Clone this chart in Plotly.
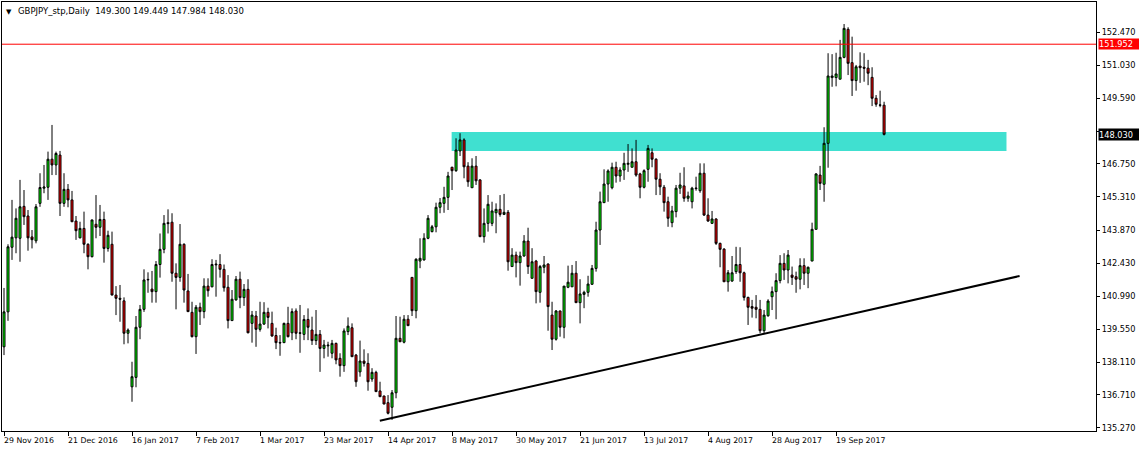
import plotly.graph_objects as go

# ---------------- data ----------------
open_ = [138.79, 140.31, 143.12, 143.53, 143.51, 144.90, 144.48, 143.57, 143.40, 145.03,
         145.69, 145.73, 146.95, 146.70, 147.13, 145.03, 145.64, 145.18, 144.26, 143.53,
         143.94, 143.25, 142.71, 144.12, 143.99, 144.33, 143.07, 143.25, 141.04, 140.90,
         140.79, 139.38, 137.05, 137.46, 139.64, 140.42, 141.70, 141.30, 141.19, 142.37,
         143.03, 144.19, 144.21, 141.99, 141.81, 143.25, 141.22, 140.29, 139.23, 140.51,
         140.32, 141.43, 141.40, 142.39, 142.37, 142.16, 141.38, 139.93, 140.83, 141.73,
         140.93, 141.29, 139.81, 140.13, 139.55, 139.78, 140.29, 139.81, 139.28, 138.98,
         138.97, 139.81, 139.40, 140.35, 139.40, 139.33, 139.98, 139.52, 139.06, 139.33,
         138.72, 138.83, 138.51, 138.94, 138.29, 137.97, 139.45, 139.62, 138.43, 137.70,
         138.17, 138.07, 137.39, 137.68, 136.87, 136.65, 136.36, 136.16, 136.79, 139.16,
         138.99, 139.99, 141.81, 140.36, 142.52, 142.57, 143.51, 143.80, 144.01, 144.86,
         145.03, 145.29, 146.60, 146.45, 147.31, 147.79, 146.65, 145.71, 146.65, 146.05,
         143.58, 144.16, 144.16, 144.62, 144.77, 144.55, 144.64, 142.28, 142.78, 142.45,
         142.74, 143.39, 141.77, 142.52, 141.16, 142.25, 142.39, 140.17, 139.12, 140.35,
         139.64, 141.38, 141.40, 141.99, 140.71, 141.07, 141.16, 141.51, 142.20, 143.87,
         145.06, 145.87, 145.71, 146.60, 146.22, 146.48, 146.73, 146.60, 146.84, 146.31,
         145.73, 146.51, 147.23, 146.95, 146.08, 145.73, 145.10, 144.19, 144.67, 145.69,
         145.79, 145.25, 145.10, 145.67, 145.58, 146.34, 144.52, 144.16, 144.35, 143.29,
         143.04, 141.62, 141.65, 142.06, 142.37, 142.01, 140.94, 140.54, 140.51, 140.42,
         139.49, 140.14, 140.97, 141.19, 141.67, 142.42, 142.13, 141.91, 141.84, 141.73,
         142.32, 141.99, 142.52, 143.90, 146.26, 145.86, 147.64, 150.50, 150.50, 150.43,
         151.38, 152.60, 151.15, 150.37, 151.00, 150.95, 150.91, 150.51, 149.60, 149.31,
         149.300]

high = [141.35, 143.25, 145.18, 144.81, 146.05, 145.61, 144.74, 143.87, 145.00, 146.34,
        146.70, 147.28, 148.44, 147.28, 147.31, 146.34, 145.87, 145.57, 144.48, 144.23,
        144.67, 143.29, 144.31, 145.39, 144.96, 144.67, 143.84, 143.80, 141.43, 141.48,
        140.94, 139.59, 138.14, 140.13, 140.61, 142.16, 142.03, 142.09, 142.52, 143.72,
        144.52, 144.77, 144.60, 142.42, 144.13, 143.29, 141.96, 140.75, 140.61, 140.71,
        141.77, 141.77, 142.60, 142.57, 142.82, 142.37, 141.91, 141.26, 141.87, 142.06,
        141.52, 141.73, 140.35, 140.35, 140.75, 140.73, 140.49, 140.32, 139.62, 139.30,
        139.84, 140.53, 140.46, 140.46, 140.61, 140.17, 140.46, 140.10, 140.39, 139.52,
        139.09, 139.01, 139.09, 138.97, 138.51, 139.59, 140.07, 139.81, 138.48, 139.06,
        138.68, 138.51, 137.86, 137.75, 137.27, 136.66, 136.69, 136.91, 140.13, 140.10,
        140.17, 140.17, 141.81, 142.64, 143.51, 143.73, 144.52, 144.09, 145.06, 145.26,
        145.75, 146.40, 146.62, 147.86, 148.08, 147.86, 146.82, 146.99, 147.09, 146.08,
        144.81, 145.39, 145.10, 145.03, 145.39, 145.44, 144.74, 143.08, 142.93, 142.93,
        143.65, 143.97, 143.08, 142.57, 142.35, 142.74, 142.42, 140.75, 140.39, 140.36,
        141.43, 142.32, 142.35, 142.52, 141.73, 141.23, 141.88, 142.35, 144.23, 145.54,
        146.51, 146.51, 146.80, 146.84, 146.60, 147.23, 147.61, 147.42, 147.79, 146.36,
        146.51, 147.57, 147.42, 146.99, 146.34, 145.83, 145.32, 144.92, 145.83, 146.36,
        146.60, 145.54, 145.75, 146.19, 146.77, 146.77, 145.25, 144.70, 144.38, 143.32,
        143.08, 142.13, 142.74, 143.14, 143.12, 142.06, 140.97, 140.83, 141.04, 140.83,
        140.39, 140.86, 141.41, 141.99, 142.78, 142.86, 143.00, 142.28, 142.06, 142.64,
        142.64, 142.28, 144.19, 146.34, 146.66, 148.34, 151.56, 151.52, 151.58, 152.14,
        152.83, 152.69, 152.28, 151.05, 151.60, 151.56, 151.27, 150.95, 149.74, 149.93,
        149.449]

low = [138.43, 139.92, 142.57, 142.86, 142.49, 144.09, 142.97, 143.07, 143.29, 144.88,
       145.47, 145.18, 146.26, 146.26, 144.48, 144.88, 144.86, 144.23, 143.44, 143.51,
       142.86, 142.16, 142.68, 143.51, 143.61, 142.45, 142.93, 141.04, 140.17, 139.88,
       138.90, 138.94, 136.40, 137.03, 139.12, 140.31, 141.14, 140.71, 140.71, 141.80,
       142.86, 143.72, 141.62, 140.42, 141.62, 140.71, 140.32, 139.20, 138.48, 139.74,
       140.03, 140.97, 141.38, 140.97, 141.80, 141.19, 139.59, 139.93, 140.80, 140.47,
       140.57, 139.38, 138.97, 138.79, 139.45, 139.74, 139.59, 139.23, 138.69, 138.40,
       138.97, 139.20, 139.08, 139.12, 138.53, 139.08, 139.08, 138.87, 138.87, 137.70,
       138.29, 138.36, 138.29, 138.03, 137.49, 137.70, 139.30, 138.36, 137.05, 137.49,
       137.93, 136.88, 137.27, 136.84, 136.62, 136.30, 135.85, 135.61, 136.55, 139.01,
       138.94, 139.71, 140.13, 140.03, 142.21, 142.54, 143.47, 143.77, 143.77, 144.60,
       144.62, 144.74, 145.61, 146.40, 147.09, 146.12, 145.75, 145.71, 145.83, 143.58,
       143.32, 143.80, 144.04, 143.73, 144.45, 144.52, 142.10, 142.28, 141.81, 141.45,
       142.71, 141.96, 141.77, 140.68, 140.71, 141.99, 139.49, 138.65, 139.06, 139.23,
       139.16, 141.34, 141.40, 140.71, 139.81, 140.47, 140.97, 141.48, 142.06, 143.22,
       145.06, 145.10, 145.64, 145.93, 145.97, 146.05, 146.40, 146.60, 146.19, 145.25,
       145.68, 145.97, 146.60, 145.39, 145.39, 144.67, 144.01, 143.99, 144.42, 145.44,
       145.10, 145.10, 144.81, 145.58, 145.49, 144.48, 144.23, 144.13, 143.22, 142.25,
       141.62, 141.19, 141.62, 141.96, 141.62, 140.80, 139.74, 140.06, 140.03, 139.38,
       139.38, 140.10, 140.39, 139.99, 141.55, 141.70, 141.55, 141.48, 141.14, 141.29,
       141.48, 141.34, 142.52, 143.90, 145.61, 145.10, 146.58, 150.10, 150.12, 150.43,
       151.34, 150.61, 149.70, 149.93, 150.27, 150.32, 150.17, 149.26, 149.23, 149.21,
       147.984]

close = [140.31, 143.14, 143.56, 144.38, 144.88, 144.45, 143.53, 143.45, 144.88, 145.72,
         145.74, 146.95, 146.70, 147.20, 145.03, 145.64, 145.18, 144.23, 143.84, 143.94,
         143.25, 142.71, 144.31, 143.99, 144.33, 143.07, 143.64, 141.04, 140.90, 140.86,
         139.38, 139.52, 137.49, 139.64, 140.42, 141.70, 141.72, 141.19, 142.37, 143.03,
         144.16, 144.15, 141.99, 141.81, 143.25, 141.26, 140.32, 139.23, 140.51, 140.32,
         141.43, 141.23, 142.37, 142.36, 142.16, 141.36, 139.93, 140.86, 141.73, 140.93,
         141.29, 139.40, 140.17, 139.55, 139.78, 140.29, 140.07, 139.26, 138.97, 138.96,
         139.81, 139.23, 140.32, 139.38, 139.38, 139.98, 139.64, 139.06, 139.33, 138.72,
         138.87, 138.86, 138.94, 138.22, 137.97, 139.48, 139.69, 138.36, 137.27, 138.17,
         138.07, 137.27, 137.68, 136.84, 136.62, 136.30, 135.90, 136.79, 139.16, 139.01,
         139.99, 139.71, 140.36, 142.60, 142.64, 143.51, 144.38, 144.01, 144.86, 145.06,
         145.29, 146.22, 146.45, 147.35, 147.79, 146.62, 145.97, 146.65, 146.01, 143.58,
         144.16, 144.99, 144.70, 144.77, 144.55, 144.64, 142.49, 142.78, 142.45, 142.74,
         143.39, 142.28, 142.49, 141.19, 142.28, 142.35, 140.54, 139.12, 140.35, 139.64,
         141.43, 141.60, 141.99, 140.71, 141.09, 141.16, 141.52, 142.20, 143.87, 145.10,
         145.87, 146.44, 146.60, 146.22, 146.48, 146.77, 146.77, 146.84, 146.26, 145.73,
         146.45, 147.42, 146.95, 146.08, 145.75, 145.06, 144.38, 144.70, 145.69, 145.83,
         145.25, 145.35, 145.69, 145.69, 146.34, 144.52, 144.26, 144.35, 143.29, 143.03,
         141.62, 142.01, 142.01, 142.37, 142.01, 140.94, 140.51, 140.47, 140.42, 139.49,
         140.17, 140.78, 141.19, 141.67, 142.42, 142.13, 142.78, 141.81, 141.73, 142.32,
         141.99, 142.25, 143.90, 146.31, 145.90, 147.64, 150.57, 150.57, 150.66, 151.38,
         152.64, 151.12, 150.37, 150.97, 150.93, 150.91, 150.69, 149.60, 149.34, 149.30,
         148.030]

bar_index = list(range(len(close)))

date_tick_bars = [0, 16, 32, 48, 64, 80, 96, 112, 128, 144, 160, 176, 192, 208]
date_labels = ["29 Nov 2016", "21 Dec 2016", "16 Jan 2017", "7 Feb 2017", "1 Mar 2017",
               "23 Mar 2017", "14 Apr 2017", "8 May 2017", "30 May 2017", "21 Jun 2017",
               "13 Jul 2017", "4 Aug 2017", "28 Aug 2017", "19 Sep 2017"]

price_ticks = [152.470, 151.030, 149.590, 148.150, 146.750, 145.310, 143.870,
               142.430, 140.990, 139.550, 138.110, 136.710, 135.270]
# the 148.150 label sits behind the last-price box in the reference
price_labels = ["" if abs(v - 148.150) < 1e-9 else f"{v:.3f}" for v in price_ticks]

symbol_title = "GBPJPY_stp,Daily"
last_ohlc = [149.300, 149.449, 147.984, 148.030]

zone_prices = [147.307, 148.133]
zone_bars = [111.9, 250.6]
trend_bars = [93.95, 253.875]
trend_prices = [135.576, 141.870]
resistance_price = 151.952
last_price = 148.030

x_range = [-0.5, 272.975]
y_range = [135.128, 153.788]

FONT = "DejaVu Sans"

# ---------------- figure ----------------
fig = go.Figure()
fig.add_trace(go.Candlestick(
    x=bar_index, open=open_, high=high, low=low, close=close,
    increasing=dict(fillcolor="#00ff00", line=dict(color="#000000", width=1)),
    decreasing=dict(fillcolor="#ff0000", line=dict(color="#000000", width=1)),
    whiskerwidth=0, hoverinfo="skip", showlegend=False,
))

# support / resistance zone (behind candles)
fig.add_shape(type="rect", xref="x", yref="y",
              x0=zone_bars[0], x1=zone_bars[1], y0=zone_prices[0], y1=zone_prices[1],
              fillcolor="#40e0d0", line=dict(width=0), layer="below")
# rising trend line
fig.add_shape(type="line", xref="x", yref="y",
              x0=trend_bars[0], y0=trend_prices[0], x1=trend_bars[1], y1=trend_prices[1],
              line=dict(color="#000000", width=2))
# horizontal resistance line
fig.add_shape(type="line", xref="paper", yref="y", x0=0, x1=1,
              y0=resistance_price, y1=resistance_price,
              line=dict(color="#ff0000", width=1))

annotations = []
for b, lab in zip(date_tick_bars, date_labels):
    annotations.append(dict(x=b, y=0, xref="x", yref="paper", text=lab,
                            showarrow=False, xanchor="left", yanchor="top",
                            xshift=-2, yshift=-3,
                            font=dict(family=FONT, size=7.8, color="#000000")))

# price boxes on the right axis
annotations.append(dict(x=1, y=resistance_price, xref="paper", yref="y",
                        text=f"{resistance_price:.3f}", showarrow=False,
                        xanchor="left", yanchor="middle", xshift=2,
                        bgcolor="#ff0000", borderpad=0, width=41, height=10, align="left",
                        font=dict(family=FONT, size=8.2, color="#ffffff")))
annotations.append(dict(x=1, y=last_price, xref="paper", yref="y",
                        text=f"{last_price:.3f}", showarrow=False,
                        xanchor="left", yanchor="middle", xshift=2,
                        bgcolor="#000000", borderpad=0, width=41, height=11, align="left",
                        font=dict(family=FONT, size=8.2, color="#ffffff")))

# title
annotations.append(dict(x=0, y=1, xref="paper", yref="paper", text="\u25bc",
                        showarrow=False, xanchor="left", yanchor="top", xshift=2, yshift=-4,
                        font=dict(family=FONT, size=7, color="#000000")))
title_text = symbol_title + "\u00a0\u00a0" + " ".join(f"{v:.3f}" for v in last_ohlc)
annotations.append(dict(x=0, y=1, xref="paper", yref="paper", text=title_text,
                        showarrow=False, xanchor="left", yanchor="top", xshift=14, yshift=-2,
                        font=dict(family=FONT, size=8.5, color="#000000")))

fig.update_layout(
    width=1139, height=452,
    margin=dict(l=2, r=43, t=2, b=21, pad=0),
    paper_bgcolor="#ffffff", plot_bgcolor="#ffffff",
    boxgap=0.5, boxgroupgap=0,
    showlegend=False,
    annotations=annotations,
    xaxis=dict(range=x_range, showgrid=False, zeroline=False,
               showline=True, linecolor="#000000", linewidth=1, mirror=True,
               ticks="outside", ticklen=4, tickcolor="#000000", tickwidth=1,
               tickmode="array", tickvals=date_tick_bars, showticklabels=False,
               rangeslider=dict(visible=False), fixedrange=True),
    yaxis=dict(range=y_range, side="right", showgrid=False, zeroline=False,
               showline=True, linecolor="#000000", linewidth=1, mirror=True,
               ticks="outside", ticklen=3, tickcolor="#000000", tickwidth=1,
               tickmode="array", tickvals=price_ticks, ticktext=price_labels,
               tickfont=dict(family=FONT, size=8.2, color="#000000"),
               fixedrange=True),
)

fig.write_html("out.html", config=dict(displayModeBar=False, staticPlot=True),
               post_script="document.body.style.margin='0px';document.body.style.padding='0px';")
